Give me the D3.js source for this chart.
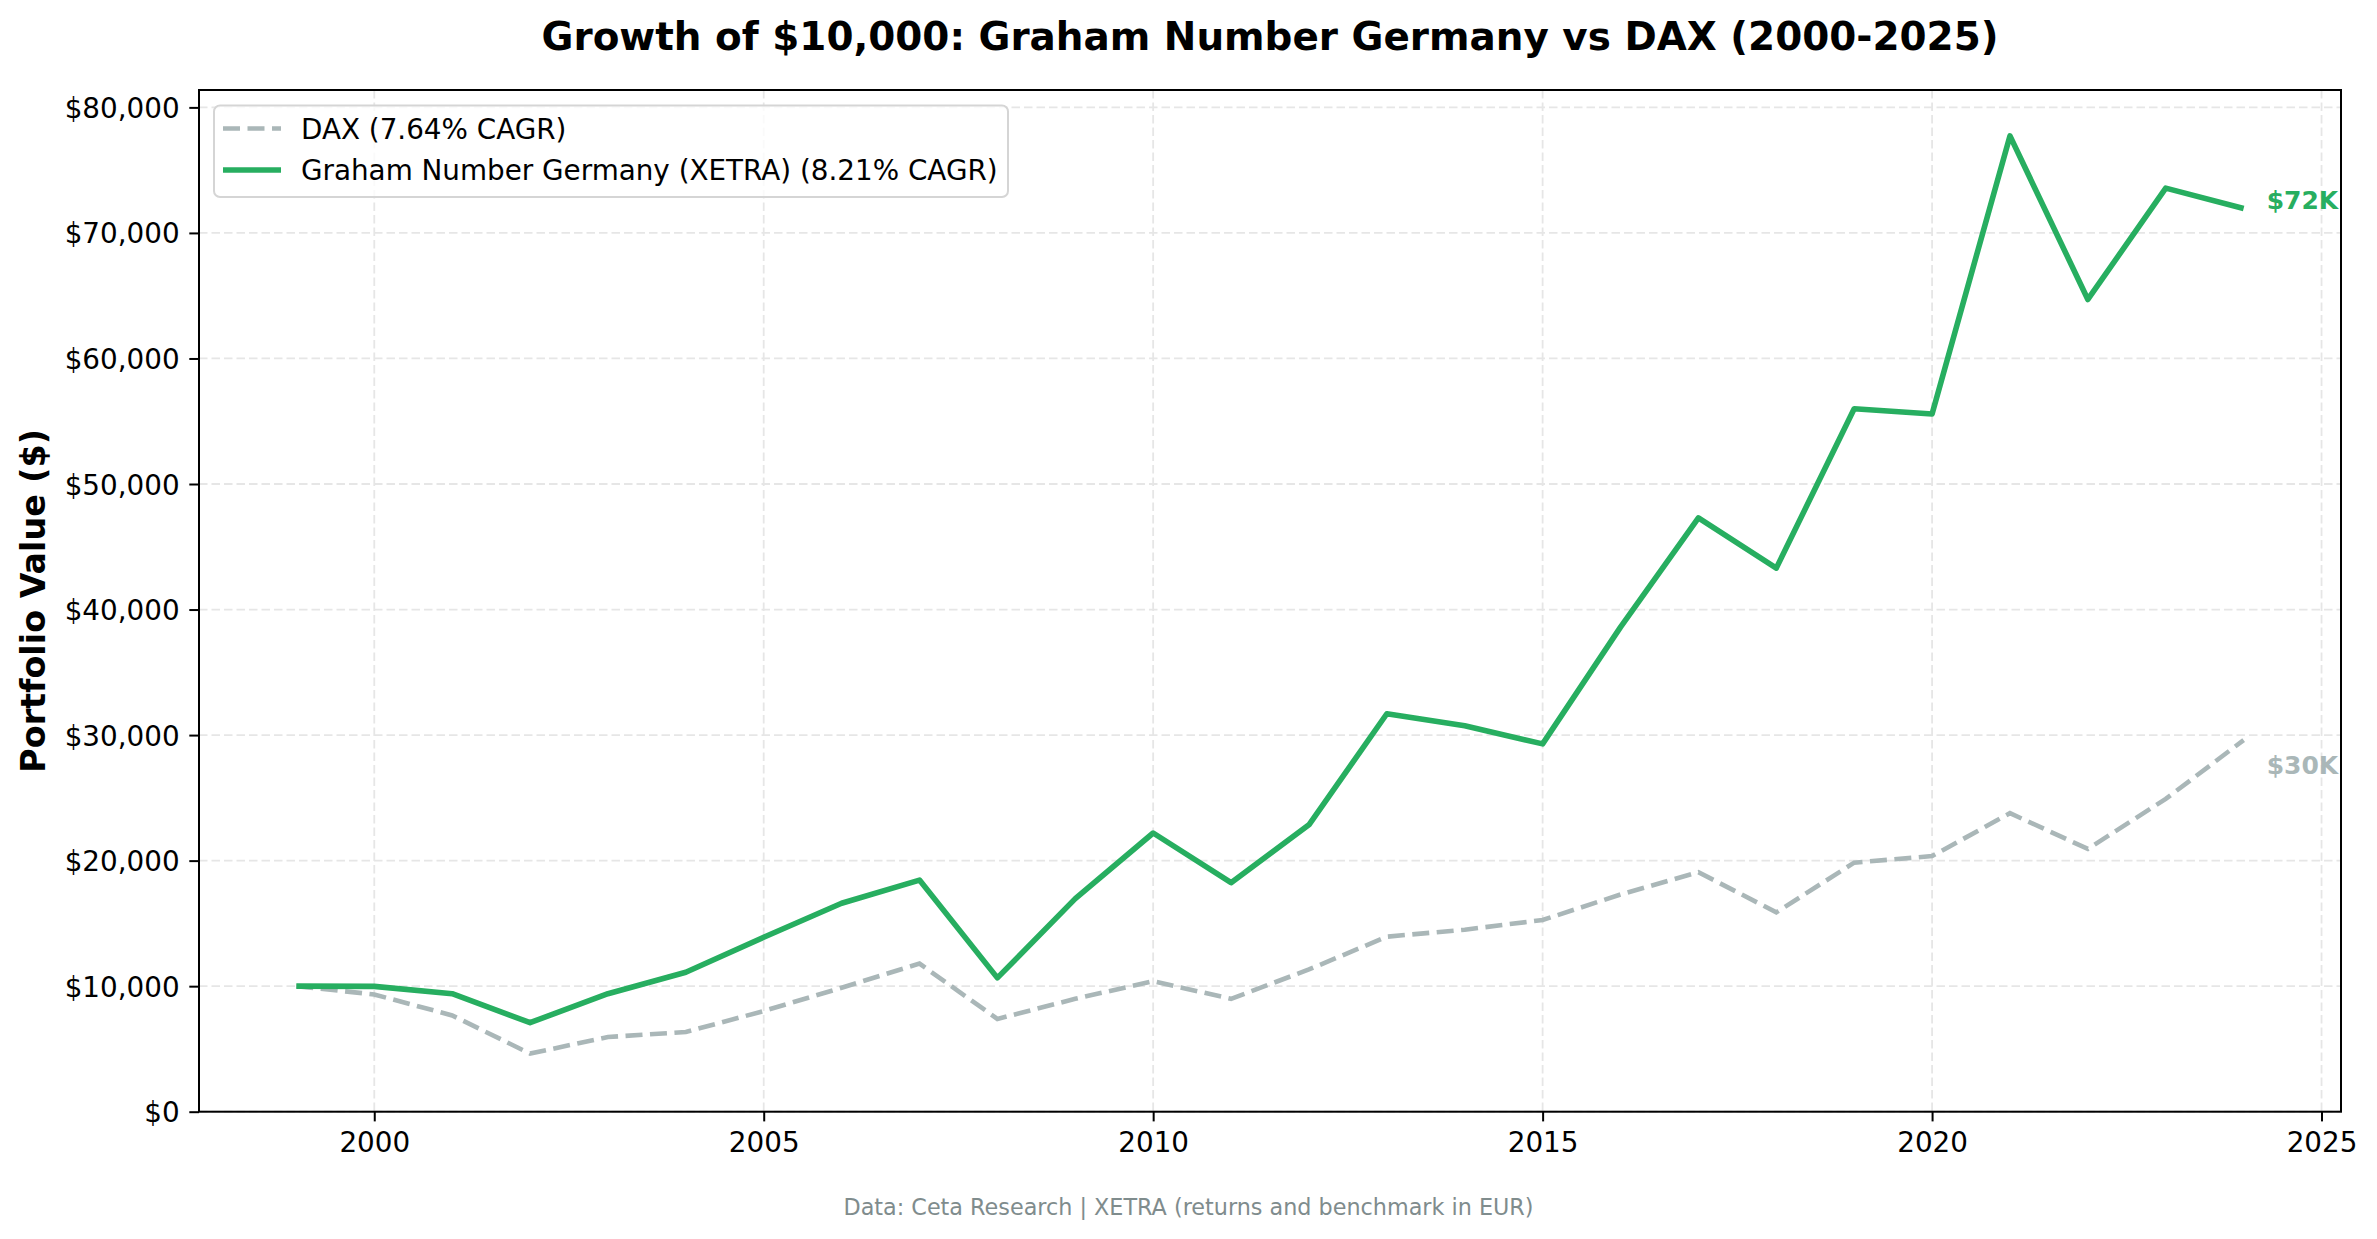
<!DOCTYPE html>
<html>
<head>
<meta charset="utf-8">
<script src="https://cdn.jsdelivr.net/npm/d3@7"></script>
<style>
  html, body { margin: 0; padding: 0; background: #fff; }
  svg { display: block; font-family: "DejaVu Sans", sans-serif; }
</style>
</head>
<body>
<svg id="chart" width="2377" height="1239"></svg>
<script>
// ---- data ----
const years = [1999,2000,2001,2002,2003,2004,2005,2006,2007,2008,2009,2010,2011,2012,2013,2014,2015,2016,2017,2018,2019,2020,2021,2022,2023,2024];
const daxValues = [10000,9340,7670,4630,5950,6350,8020,9870,11800,7390,8990,10400,8990,11330,13940,14500,15270,17300,19080,15880,19840,20360,23780,20930,24920,29600];
const grahamValues = [10000,9980,9400,7090,9400,11110,13900,16600,18450,10660,16970,22200,18240,22850,31700,30740,29300,38600,47300,43300,56000,55580,77730,64700,73570,71950];
const seriesNames = ["DAX (7.64% CAGR)", "Graham Number Germany (XETRA) (8.21% CAGR)"];
const endLabels = ["$30K", "$72K"];
const xTicks = [2000, 2005, 2010, 2015, 2020, 2025];
const yTicks = [0,10000,20000,30000,40000,50000,60000,70000,80000];
const titleText = "Growth of $10,000: Graham Number Germany vs DAX (2000-2025)";
const yLabelText = "Portfolio Value ($)";
const footText = "Data: Ceta Research | XETRA (returns and benchmark in EUR)";

// ---- layout ----
const W = 2377, H = 1239;
const L = 199, R = 2341, T = 90, B = 1111.7;
const svg = d3.select("#chart");

const xMin = d3.min(years), xMax = d3.max(years);
const xPad = (xMax - xMin) * 0.05;
const x = d3.scaleLinear().domain([xMin - xPad, xMax + xPad]).range([L, R]);
const allV = daxValues.concat(grahamValues);
const vMin = d3.min(allV), vMax = d3.max(allV);
const y = d3.scaleLinear().domain([0, vMax + (vMax - vMin) * 0.05]).range([B, T]);

const GREEN = "#27ae60";
const GRAY = "#aab7b8";

// grid
const grid = svg.append("g");
grid.selectAll(".hg").data(yTicks).join("line")
  .attr("x1", L).attr("x2", R)
  .attr("y1", d => y(d)).attr("y2", d => y(d))
  .attr("stroke", "#e6e6e6").attr("stroke-width", 1.8)
  .attr("stroke-dasharray", "8.5,4");
grid.selectAll(".vg").data(xTicks).join("line")
  .attr("x1", d => x(d)).attr("x2", d => x(d))
  .attr("y1", T).attr("y2", B)
  .attr("stroke", "#e6e6e6").attr("stroke-width", 1.8)
  .attr("stroke-dasharray", "8.5,4");

// axes
const fmt = d => "$" + d3.format(",")(d);
const xAxis = svg.append("g").attr("transform", `translate(0,${B})`)
  .call(d3.axisBottom(x).tickValues(xTicks).tickFormat(d3.format("d")).tickSize(9.7).tickPadding(9.7));
const yAxis = svg.append("g").attr("transform", `translate(${L},0)`)
  .call(d3.axisLeft(y).tickValues(yTicks).tickFormat(fmt).tickSize(9.7).tickPadding(9.7));
[xAxis, yAxis].forEach(a => {
  a.select(".domain").remove();
  a.selectAll(".tick line").attr("stroke", "#000").attr("stroke-width", 2);
  a.selectAll(".tick text").attr("fill", "#000").attr("font-size", 27.8)
    .attr("font-family", "DejaVu Sans");
});
xAxis.selectAll(".tick text").attr("dy", "0.76em");
yAxis.selectAll(".tick text").attr("dy", "0.36em");

// lines
const line = vals => d3.line().x((d, i) => x(years[i])).y(d => y(d))(vals);
svg.append("path").attr("d", line(daxValues))
  .attr("fill", "none").attr("stroke", GRAY).attr("stroke-width", 4.6)
  .attr("stroke-dasharray", "17,7.5");
svg.append("path").attr("d", line(grahamValues))
  .attr("fill", "none").attr("stroke", GREEN).attr("stroke-width", 5.6)
  .attr("stroke-linejoin", "round").attr("stroke-linecap", "butt");

// end labels
const lastX = x(years[years.length - 1]);
svg.append("text").attr("x", lastX + 23).attr("y", y(daxValues[daxValues.length - 1]) + 25)
  .attr("dy", "0.36em").attr("fill", GRAY).attr("font-weight", "bold").attr("font-size", 25)
  .text(endLabels[0]);
svg.append("text").attr("x", lastX + 23).attr("y", y(grahamValues[grahamValues.length - 1]) - 8)
  .attr("dy", "0.36em").attr("fill", GREEN).attr("font-weight", "bold").attr("font-size", 25)
  .text(endLabels[1]);

// frame
svg.append("rect").attr("x", L).attr("y", T).attr("width", R - L).attr("height", B - T)
  .attr("fill", "none").attr("stroke", "#000").attr("stroke-width", 2);

// legend
const lg = svg.append("g");
lg.append("rect").attr("x", 214).attr("y", 105.5).attr("width", 794).attr("height", 91.5)
  .attr("rx", 6).attr("fill", "#fff").attr("fill-opacity", 0.8)
  .attr("stroke", "#d5d5d5").attr("stroke-width", 2);
const rows = [
  {name: seriesNames[0], color: GRAY, w: 4.6, dash: "17,7.5", cy: 128.5},
  {name: seriesNames[1], color: GREEN, w: 5.6, dash: null, cy: 170}
];
rows.forEach(r => {
  lg.append("line").attr("x1", 223).attr("x2", 281).attr("y1", r.cy).attr("y2", r.cy)
    .attr("stroke", r.color).attr("stroke-width", r.w).attr("stroke-dasharray", r.dash);
  lg.append("text").attr("x", 301).attr("y", r.cy).attr("dy", "0.36em")
    .attr("font-size", 27.8).attr("fill", "#000").text(r.name);
});

// title
svg.append("text").attr("x", 1270).attr("y", 36).attr("dy", "0.36em")
  .attr("text-anchor", "middle").attr("font-weight", "bold").attr("font-size", 38.9)
  .text(titleText);

// y label
svg.append("text").attr("transform", `translate(33,${(T + B) / 2}) rotate(-90)`)
  .attr("dy", "0.36em").attr("text-anchor", "middle").attr("font-weight", "bold")
  .attr("font-size", 33.3).text(yLabelText);

// footnote
svg.append("text").attr("x", W / 2).attr("y", 1207).attr("dy", "0.36em")
  .attr("text-anchor", "middle").attr("font-size", 22.3).attr("fill", "#7f8c8d")
  .text(footText);
</script>
</body>
</html>
